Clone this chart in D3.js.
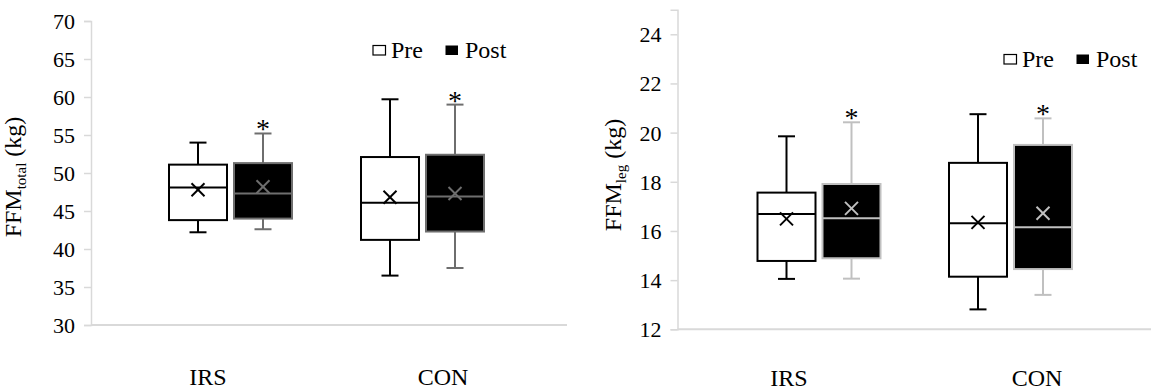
<!DOCTYPE html>
<html>
<head>
<meta charset="utf-8">
<script src="https://cdn.jsdelivr.net/npm/d3@7"></script>
<style>
	body { margin: 0; background: #fff; }
	svg text { font-family: "Liberation Serif", "Times New Roman", serif; fill: #000; }
</style>
</head>
<body>
<div id="chart"></div>
<script>
var categories = ["IRS", "CON"];
var seriesNames = ["Pre", "Post"];
var starredSeries = ["Post"];

// each box: [min, q1, median, q3, max, mean]
var totalPre = [[42.2, 43.8, 48.1, 51.1, 54.0, 47.8], [36.5, 41.2, 46.1, 52.1, 59.7, 46.8]];
var totalPost = [[42.6, 44.0, 47.3, 51.3, 55.2, 48.2], [37.5, 42.3, 46.9, 52.4, 59.0, 47.3]];
var totalTicks = [30, 35, 40, 45, 50, 55, 60, 65, 70];

var legPre = [[14.05, 14.78, 16.69, 17.56, 19.85, 16.49], [12.81, 14.14, 16.31, 18.77, 20.75, 16.35]];
var legPost = [[14.06, 14.89, 16.52, 17.91, 20.42, 16.92], [13.40, 14.45, 16.15, 19.50, 20.58, 16.72]];
var legTicks = [12, 14, 16, 18, 20, 22, 24];

var svg = d3.select("#chart")
	.append("svg")
	.attr("width", 1151)
	.attr("height", 392);

function drawPanel(cfg) {
	var g = svg.append("g").attr("class", "panel " + cfg.name);
	var y = d3.scaleLinear().domain(cfg.yDomain).range(cfg.yRange);
	var xGroup = d3.scalePoint().domain(categories).range(cfg.groupRange);
	var xSeries = d3.scalePoint().domain(seriesNames).range([-32.5, 32.5]);
	var xLabel = d3.scalePoint().domain(categories).range(cfg.labelRange);
	var boxW = 58, capW = 17, markR = 6.5;

	// y axis
	var yAxis = d3.axisLeft(y).tickValues(cfg.ticks).tickSize(7).tickPadding(9);
	var ax = g.append("g")
		.attr("transform", "translate(" + cfg.axisX + ",0)")
		.call(yAxis);
	ax.attr("font-family", null);
	ax.select(".domain").attr("stroke", "#d9d9d9").attr("stroke-width", 1.5);
	ax.selectAll(".tick line").attr("stroke", "#d9d9d9").attr("stroke-width", 1.5);
	ax.selectAll(".tick text")
		.style("font-family", "'Liberation Serif', serif")
		.style("font-size", "22px")
		.attr("dy", "0.34em");

	// x axis line
	g.append("line")
		.attr("x1", cfg.axisX)
		.attr("x2", cfg.axisEnd)
		.attr("y1", y(cfg.yDomain[0]))
		.attr("y2", y(cfg.yDomain[0]))
		.attr("stroke", "#d9d9d9")
		.attr("stroke-width", 2);

	g.selectAll("text.cat")
		.data(categories)
		.enter().append("text")
		.attr("class", "cat")
		.attr("x", function(d) { return xLabel(d); })
		.attr("y", cfg.labelY)
		.attr("text-anchor", "middle")
		.style("font-size", "24px")
		.text(function(d) { return d; });

	// y title
	var title = g.append("text")
		.attr("transform", "translate(" + cfg.titleX + "," + cfg.titleY + ") rotate(-90)")
		.attr("text-anchor", "middle")
		.style("font-size", "24px");
	title.append("tspan").text("FFM");
	title.append("tspan").attr("dy", 5).style("font-size", "15px").text(cfg.titleSub);
	title.append("tspan").attr("dy", -5).text(" (kg)");

	// boxes
	var series = [
		{ name: "Pre", data: cfg.pre, fill: "#fff", stroke: "#000" },
		{ name: "Post", data: cfg.post, fill: "#000", stroke: cfg.postStroke }
	];
	series.forEach(function(s) {
		s.data.forEach(function(v, i) {
			var cx = xGroup(categories[i]) + xSeries(s.name);
			var b = g.append("g").attr("class", "box " + s.name);
			// whiskers
			b.append("line").attr("x1", cx).attr("x2", cx).attr("y1", y(v[3])).attr("y2", y(v[4]));
			b.append("line").attr("x1", cx).attr("x2", cx).attr("y1", y(v[1])).attr("y2", y(v[0]));
			b.append("line").attr("x1", cx - capW / 2).attr("x2", cx + capW / 2).attr("y1", y(v[4])).attr("y2", y(v[4]));
			b.append("line").attr("x1", cx - capW / 2).attr("x2", cx + capW / 2).attr("y1", y(v[0])).attr("y2", y(v[0]));
			b.append("rect")
				.attr("x", cx - boxW / 2)
				.attr("y", y(v[3]))
				.attr("width", boxW)
				.attr("height", y(v[1]) - y(v[3]))
				.attr("fill", s.fill);
			b.append("line").attr("x1", cx - boxW / 2).attr("x2", cx + boxW / 2).attr("y1", y(v[2])).attr("y2", y(v[2]));
			// mean marker
			var my = y(v[5]);
			b.append("line").attr("x1", cx - markR).attr("x2", cx + markR).attr("y1", my - markR).attr("y2", my + markR);
			b.append("line").attr("x1", cx - markR).attr("x2", cx + markR).attr("y1", my + markR).attr("y2", my - markR);
			b.selectAll("line, rect").attr("stroke", s.stroke).attr("stroke-width", 2);

			if (starredSeries.indexOf(s.name) >= 0) {
				g.append("text")
					.attr("x", cx)
					.attr("y", y(v[4]) + 5)
					.attr("text-anchor", "middle")
					.style("font-size", "28px")
					.text("*");
			}
		});
	});

	// legend
	var lg = g.append("g").attr("transform", "translate(" + cfg.legendX + "," + cfg.legendY + ")");
	lg.append("rect").attr("x", 0).attr("y", -12.5).attr("width", 12.5).attr("height", 9.5)
		.attr("fill", "#fff").attr("stroke", "#000").attr("stroke-width", 1.2);
	lg.append("text").attr("x", 18).attr("y", 0).style("font-size", "24px").text("Pre");
	lg.append("rect").attr("x", 72.5).attr("y", -12.5).attr("width", 12.5).attr("height", 9.5)
		.attr("fill", "#000");
	lg.append("text").attr("x", 92).attr("y", 0).style("font-size", "24px").text("Post");
}

drawPanel({
	name: "total",
	yDomain: [30, 70], yRange: [325, 21], ticks: totalTicks,
	axisX: 91, axisEnd: 567,
	groupRange: [230.5, 422.5], labelRange: [208, 443], labelY: 385,
	titleX: 21, titleY: 177, titleSub: "total",
	pre: totalPre, post: totalPost, postStroke: "#6e6e6e",
	legendX: 373, legendY: 58
});

drawPanel({
	name: "leg",
	yDomain: [12, 25], yRange: [329.3, 9.7], ticks: legTicks,
	axisX: 677.5, axisEnd: 1151,
	groupRange: [819, 1010.5], labelRange: [789, 1037], labelY: 386,
	titleX: 621, titleY: 175, titleSub: "leg",
	pre: legPre, post: legPost, postStroke: "#c0c0c0",
	legendX: 1004, legendY: 67
});
</script>
</body>
</html>
